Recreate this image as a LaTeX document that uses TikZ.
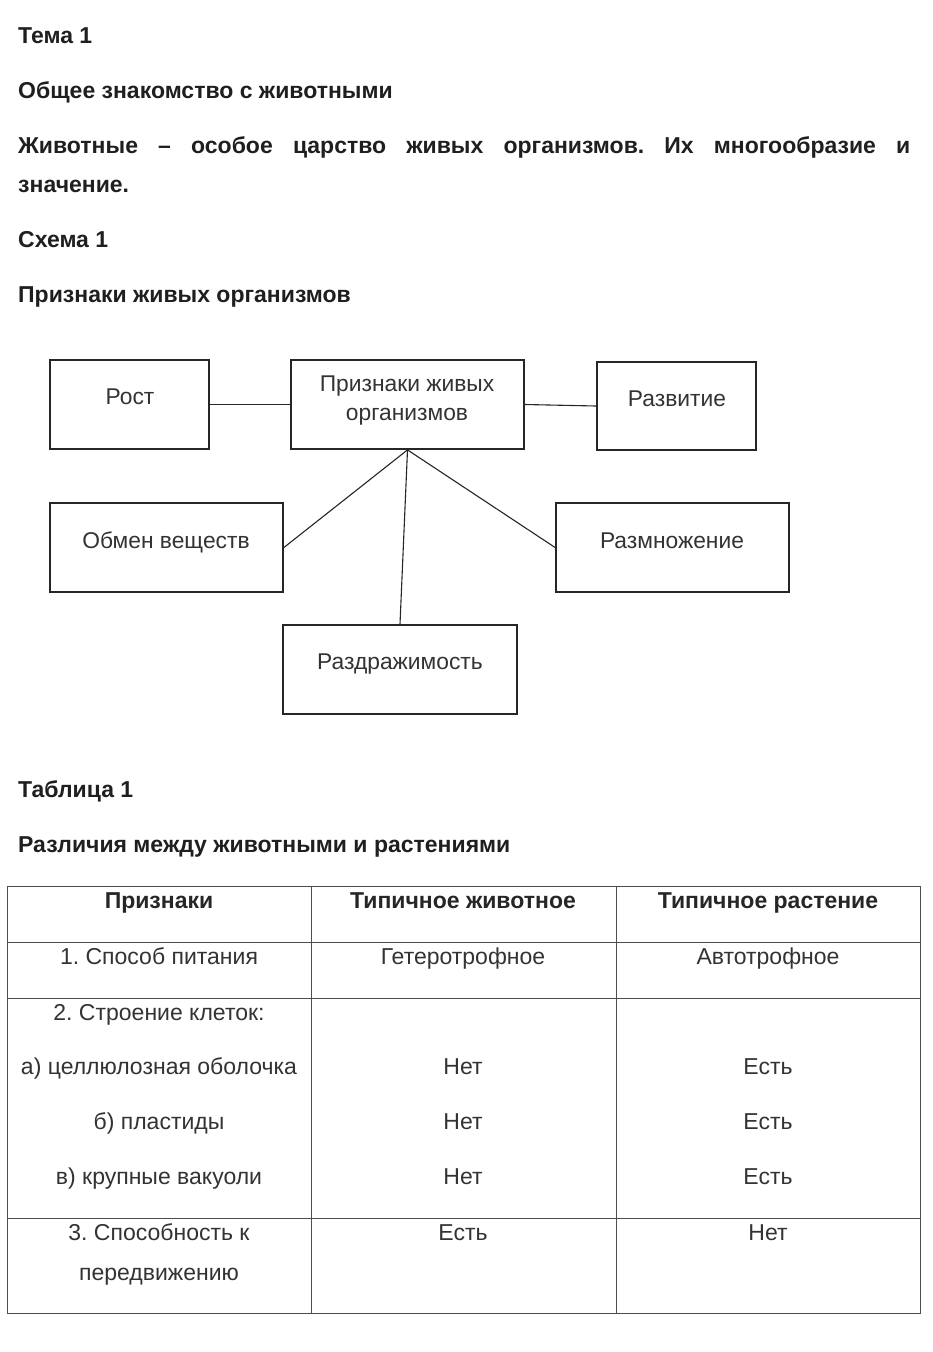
\documentclass[tikz,border=0pt]{standalone}
\usepackage{fontspec}
\setmainfont{Liberation Sans}
\frenchspacing
\begin{document}
\begin{tikzpicture}[x=1pt,y=-1pt,
  head/.style={anchor=west,inner sep=0pt,text height=16pt,text depth=0pt,font=\fontsize{23}{27}\selectfont\bfseries,text=black!88},
  box/.style={draw=black!85,line width=1.8pt,rectangle,inner sep=0pt},
  btext/.style={inner sep=0pt,text height=16pt,text depth=0pt,font=\fontsize{22.8}{27}\selectfont,text=black!80},
  link/.style={draw=black!85,line width=1.1pt},
  cell/.style={inner sep=0pt,text height=16pt,text depth=0pt,font=\fontsize{23}{27}\selectfont,text=black!80},
  hcell/.style={inner sep=0pt,text height=16pt,text depth=0pt,font=\fontsize{23}{27}\selectfont\bfseries,text=black!85},
  grid/.style={draw=black!70,line width=0.9pt}]
\useasboundingbox[fill=white] (0,0) rectangle (932,1352);
% headings
\node[head] (t1) at (18,35) {Тема 1};
\node[head] (t2) at (18,90) {Общее знакомство с животными};
\node[head] (t3) at (18,145) {\makebox[892pt][s]{Животные – особое царство живых организмов. Их многообразие и}};
\node[head] (t4) at (18,184) {значение.};
\node[head] (t5) at (18,239) {Схема 1};
\node[head] (t6) at (18,294) {Признаки живых организмов};
% scheme boxes
\node[box,minimum width=159,minimum height=89] (rost) at (129.5,404.5) {};
\node[btext] (rostT) at (130,396) {Рост};
\node[box,minimum width=233,minimum height=89] (center) at (407.5,404.5) {};
\node[btext] (centerA) at (407,383) {Признаки живых};
\node[btext] (centerB) at (407,412) {организмов};
\node[box,minimum width=159,minimum height=88] (razv) at (676.5,406) {};
\node[btext] (razvT) at (677,398) {Развитие};
\node[box,minimum width=233,minimum height=89] (obmen) at (166.5,547.5) {};
\node[btext] (obmenT) at (166,540) {Обмен веществ};
\node[box,minimum width=233,minimum height=89] (razm) at (672.5,547.5) {};
\node[btext] (razmT) at (672,540) {Размножение};
\node[box,minimum width=234,minimum height=89] (razd) at (400,669.5) {};
\node[btext] (razdT) at (400,661) {Раздражимость};
% connectors
\draw[link] (rost.east) -- (center.west);
\draw[link] (center.east) -- (razv.west);
\draw[link] (center.south) -- (obmen.east);
\draw[link] (center.south) -- (razm.west);
\draw[link] (center.south) -- (razd.north);
% table headings
\node[head] (t7) at (18,789) {Таблица 1};
\node[head] (t8) at (18,844) {Различия между животными и растениями};
% table grid
\draw[grid] (7,886) rectangle (920,1313);
\draw[grid] (311,886) -- (311,1313);
\draw[grid] (616,886) -- (616,1313);
\draw[grid] (7,942) -- (920,942);
\draw[grid] (7,998) -- (920,998);
\draw[grid] (7,1218) -- (920,1218);
% table texts
\node[hcell] (h1) at (159,900) {Признаки};
\node[hcell] (h2) at (463,900) {Типичное животное};
\node[hcell] (h3) at (768,900) {Типичное растение};
\node[cell] (r1a) at (159,956) {1. Способ питания};
\node[cell] (r1b) at (463,956) {Гетеротрофное};
\node[cell] (r1c) at (768,956) {Автотрофное};
\node[cell] (r2a) at (159,1012) {2. Строение клеток:};
\node[cell] (r2b) at (159,1066) {а) целлюлозная оболочка};
\node[cell] (r2c) at (159,1121) {б) пластиды};
\node[cell] (r2d) at (159,1176) {в) крупные вакуоли};
\node[cell] (r2e) at (463,1066) {Нет};
\node[cell] (r2f) at (463,1121) {Нет};
\node[cell] (r2g) at (463,1176) {Нет};
\node[cell] (r2h) at (768,1066) {Есть};
\node[cell] (r2i) at (768,1121) {Есть};
\node[cell] (r2j) at (768,1176) {Есть};
\node[cell] (r3a) at (159,1232) {3. Способность к};
\node[cell] (r3b) at (159,1272) {передвижению};
\node[cell] (r3c) at (463,1232) {Есть};
\node[cell] (r3d) at (768,1232) {Нет};
\end{tikzpicture}
\end{document}
